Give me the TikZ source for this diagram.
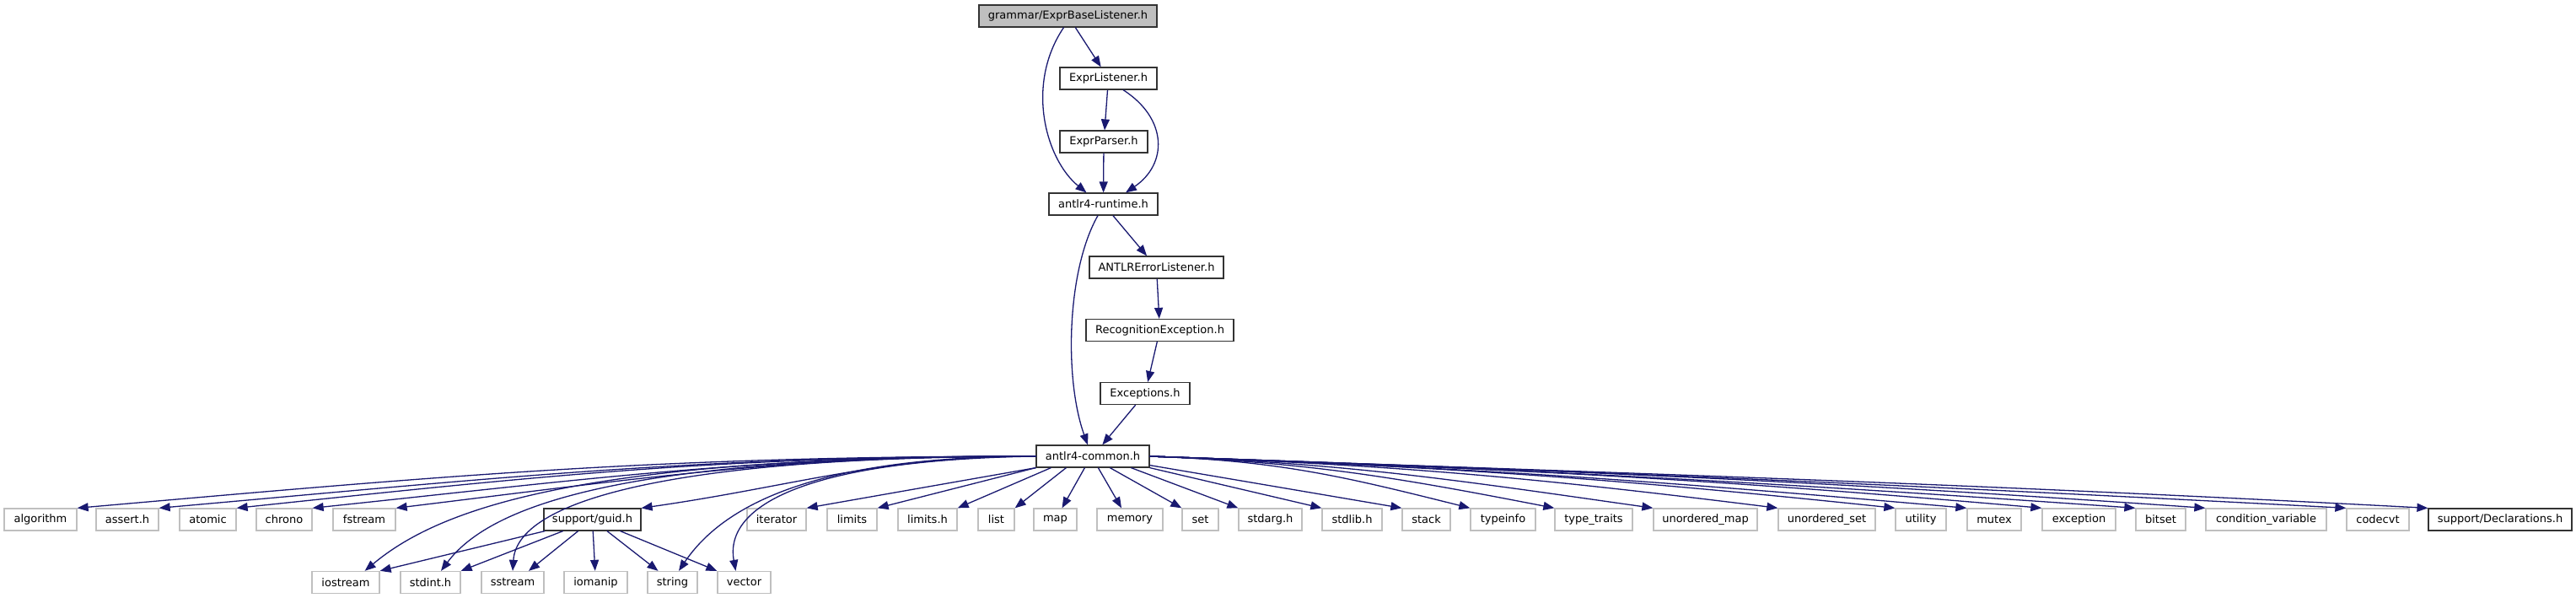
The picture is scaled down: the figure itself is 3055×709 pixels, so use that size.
\documentclass[tikz,border=0pt]{standalone}
\usepackage{fontspec}
\setmainfont{DejaVu Sans}
\usetikzlibrary{arrows.meta, calc}
\definecolor{grey75}{HTML}{BFBFBF}
\definecolor{midnightblue}{HTML}{191970}
\tikzstyle{incl} = [draw=midnightblue, line width=1.3pt, -{Triangle[length=13pt,width=10pt]}]

\begin{document}
\begin{tikzpicture}[x=1pt, y=1pt,
      hdr/.style={rectangle, draw=black!80, line width=1.2pt, fill=white, minimum height=26pt, inner sep=0pt, font=\fontsize{13}{15}\selectfont},
      sys/.style={hdr, draw=grey75, line width=1.3pt},
      root/.style={hdr, fill=grey75},
    ]
    \useasboundingbox (0,0) rectangle (3055,-709);

    % Project headers
    \node[root, minimum width=211pt] (grammar) at (1266.5,-19) {grammar/ExprBaseListener.h};
    \node[hdr, minimum width=115pt] (exprlistener) at (1314.5,-93) {ExprListener.h};
    \node[hdr, minimum width=104pt] (exprparser) at (1309,-168) {ExprParser.h};
    \node[hdr, minimum width=129pt] (runtime) at (1308.5,-242) {antlr4-runtime.h};
    \node[hdr, minimum width=159pt] (errlistener) at (1371.5,-317) {ANTLRErrorListener.h};
    \node[hdr, minimum width=175pt] (recog) at (1375.5,-391.5) {RecognitionException.h};
    \node[hdr, minimum width=106pt] (exceptions) at (1358,-466.5) {Exceptions.h};
    \node[hdr, minimum width=134pt] (common) at (1296,-541) {antlr4-common.h};

    % Included headers, first row
    \node[sys, minimum width=86pt] (algorithm) at (48,-616) {algorithm};
    \node[sys, minimum width=74pt] (asserth) at (151,-616) {assert.h};
    \node[sys, minimum width=67pt] (atomic) at (246.5,-616) {atomic};
    \node[sys, minimum width=66pt] (chrono) at (337,-616) {chrono};
    \node[sys, minimum width=74pt] (fstream) at (432,-616) {fstream};
    \node[hdr, minimum width=115pt] (guid) at (702.5,-616) {support/guid.h};
    \node[sys, minimum width=70pt] (iterator) at (921,-616) {iterator};
    \node[sys, minimum width=59pt] (limits) at (1010.5,-616) {limits};
    \node[sys, minimum width=70pt] (limitsh) at (1100,-616) {limits.h};
    \node[sys, minimum width=43pt] (list) at (1181.5,-616) {list};
    \node[sys, minimum width=51pt] (map) at (1251.5,-616) {map};
    \node[sys, minimum width=78pt] (memory) at (1340,-616) {memory};
    \node[sys, minimum width=43pt] (set) at (1423.5,-616) {set};
    \node[sys, minimum width=75pt] (stdargh) at (1506.5,-616) {stdarg.h};
    \node[sys, minimum width=71pt] (stdlibh) at (1603.5,-616) {stdlib.h};
    \node[sys, minimum width=57pt] (stack) at (1691.5,-616) {stack};
    \node[sys, minimum width=77pt] (typeinfo) at (1782.5,-616) {typeinfo};
    \node[sys, minimum width=92pt] (typetraits) at (1890,-616) {type\_traits};
    \node[sys, minimum width=123pt] (umap) at (2022.5,-616) {unordered\_map};
    \node[sys, minimum width=115pt] (uset) at (2166.5,-616) {unordered\_set};
    \node[sys, minimum width=60pt] (utility) at (2278,-616) {utility};
    \node[sys, minimum width=64pt] (mutex) at (2365,-616) {mutex};
    \node[sys, minimum width=87pt] (exception) at (2465.5,-616) {exception};
    \node[sys, minimum width=59pt] (bitset) at (2562.5,-616) {bitset};
    \node[sys, minimum width=143pt] (condvar) at (2687.5,-616) {condition\_variable};
    \node[sys, minimum width=74pt] (codecvt) at (2820,-616) {codecvt};
    \node[hdr, minimum width=170pt] (decl) at (2965,-616) {support/Declarations.h};

    % Included headers, second row
    \node[sys, minimum width=80pt] (iostream) at (410,-690.5) {iostream};
    \node[sys, minimum width=71pt] (stdinth) at (510.5,-690.5) {stdint.h};
    \node[sys, minimum width=74pt] (sstream) at (608,-690.5) {sstream};
    \node[sys, minimum width=75pt] (iomanip) at (706.5,-690.5) {iomanip};
    \node[sys, minimum width=59pt] (string) at (797.5,-690.5) {string};
    \node[sys, minimum width=63pt] (vector) at (882.5,-690.5) {vector};

    % Upper chain
    \draw[incl] (grammar) -- (exprlistener);
    \draw[incl] ([xshift=-5pt]grammar.south) .. controls +(-46,-68) and +(-48,39) .. ([xshift=-20pt]runtime.north);
    \draw[incl] (exprlistener) -- (exprparser);
    \draw[incl] ([xshift=17.5pt]exprlistener.south) .. controls +(53,-34) and +(50,34) .. ([xshift=26.5pt]runtime.north);
    \draw[incl] (exprparser) -- (runtime);
    \draw[incl] (runtime) -- (errlistener);
    \draw[incl] ([xshift=-6.5pt]runtime.south) .. controls +(-37,-65) and +(-28,78) .. ([xshift=-6pt]common.north);
    \draw[incl] (errlistener) -- (recog);
    \draw[incl] (recog) -- (exceptions);
    \draw[incl] (exceptions) -- (common);

    % Fan out of antlr4-common.h, left side
    \foreach \t/\c/\dx/\dy in {algorithm/446/444/39, asserth/408/406/36, atomic/372/370/39,
        chrono/336/334/35, fstream/298/296/36, guid/184/182/26}
      \draw[incl] (common.west) .. controls +(-\c,0) and +(\dx,\dy) .. (\t.north east);
    \draw[incl] (common.west) .. controls +(-530,0) and +(92,77) .. ([xshift=-18pt]iostream.north east);
    \draw[incl] (common.west) .. controls +(-450,0) and +(66,88) .. ([xshift=12.5pt]stdinth.north);
    \draw[incl] (common.west) .. controls +(-400,0) and +(6,90) .. (sstream.north);
    \draw[incl] (common.west) .. controls +(-250,0) and +(56,83) .. ([xshift=7.5pt]string.north);
    \draw[incl] (common.west) .. controls +(-270,-4) and +(-14,78) .. ([xshift=-10pt]vector.north);

    % straight below
    \draw[incl] (common.south west) -- (iterator.north east);
    \draw[incl] (common.south west) -- (limits.north east);
    \draw[incl] ([xshift=18pt]common.south west) -- (limitsh.north east);
    \draw[incl] ([xshift=36pt]common.south west) -- (list.north east);
    \draw[incl] ([xshift=58pt]common.south west) -- ([xshift=8pt]map.north);
    \draw[incl] ([xshift=74pt]common.south west) -- ([xshift=-10pt]memory.north);
    \draw[incl] ([xshift=88pt]common.south west) -- (set.north west);
    \draw[incl] ([xshift=113pt]common.south west) -- (stdargh.north west);
    \draw[incl] (common.south east) -- (stdlibh.north west);
    \draw[incl] ([yshift=3pt]common.south east) -- (stack.north west);

    % right side
    \foreach \t/\c/\e/\dx/\dy in {typeinfo/153/5/-148/37, typetraits/190/7/-186/36, umap/235/8/-233/33,
        uset/292/10/-290/36, utility/346/12/-344/36, mutex/379/13/-378/33, exception/414/14/-412/36,
        bitset/457/16/-456/32, condvar/489/17/-488/34, codecvt/554/19/-553/29, decl/592/21/-591/31}
      \draw[incl] (common.east) .. controls +(\c,-\e) and +(\dx,\dy) .. (\t.north west);

    % support/guid.h
    \draw[incl] (guid) -- (iostream.north east);
    \draw[incl] (guid) -- (stdinth.north east);
    \draw[incl] (guid) -- ([xshift=19pt]sstream.north);
    \draw[incl] (guid) -- (iomanip);
    \draw[incl] (guid) -- ([xshift=-17pt]string.north);
    \draw[incl] (guid) -- (vector.north west);

  \end{tikzpicture}
\end{document}
